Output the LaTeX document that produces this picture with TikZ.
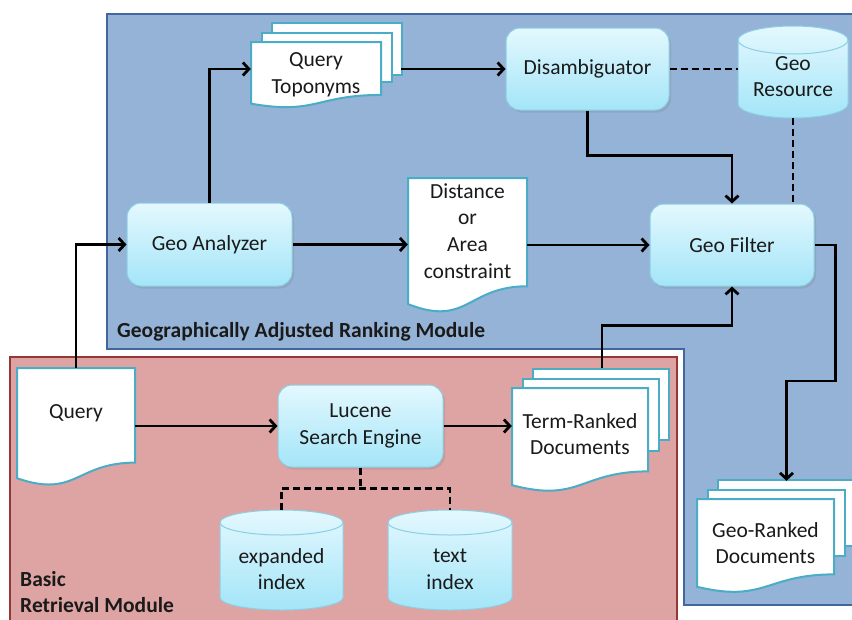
\documentclass[tikz,border=0pt]{standalone}
\usepackage{fontspec}
\setmainfont{Carlito}
\usetikzlibrary{arrows.meta,shadows}

\definecolor{panelblue}{HTML}{95B3D7}
\definecolor{panelblueline}{HTML}{41679E}
\definecolor{panelred}{HTML}{DEA4A3}
\definecolor{panelredline}{HTML}{953735}
\definecolor{boxtop}{HTML}{E4F8FE}
\definecolor{boxbot}{HTML}{A3E5F8}
\definecolor{boxline}{HTML}{8CCFE3}
\definecolor{docline}{HTML}{4BACC6}
\definecolor{ink}{HTML}{1A1A1A}

% flowchart document: left, top, right, height (y grows downwards)
\newcommand\docshape[4]{%
  \filldraw[docstyle] (#1,#2) -- (#3,#2) -- (#3,#2+0.802*#4)
    .. controls ({(#1+#3)/2},#2+0.802*#4) and ({(#1+#3)/2},#2+1.1075*#4) ..
    (#1,#2+0.934*#4) -- cycle;}
% stack of three pages, front page given as for \docshape
\newcommand\pagestack[4]{%
  \filldraw[docstyle] (#1+21,#2-19) rectangle (#3+21,#2+0.802*#4-0.30*#4);
  \filldraw[docstyle] (#1+10.5,#2-9.5) rectangle (#3+10.5,#2+0.802*#4-0.2*#4);
  \docshape{#1}{#2}{#3}{#4}}
% database cylinder: centre x, top y, bottom y, x radius, y radius (pt)
\newcommand\dbcyl[5]{%
  \path[top color=boxtop,bottom color=boxbot,draw=boxline,line width=1pt]
    (#1-#4,#2+#5) -- (#1-#4,#3-#5)
    arc[start angle=180,end angle=360,x radius=#4pt,y radius=#5pt]
    -- (#1+#4,#2+#5)
    arc[start angle=0,end angle=180,x radius=#4pt,y radius=#5pt] -- cycle;
  \draw[boxline,line width=1pt] (#1-#4,#2+#5)
    arc[start angle=180,end angle=360,x radius=#4pt,y radius=#5pt];}

\tikzset{
  txt/.style={font=\fontsize{21.5}{26.7}\selectfont, text=ink, align=center, inner sep=0pt},
  procbox/.style={txt, rounded corners=14pt, draw=boxline, line width=1pt,
    top color=boxtop, bottom color=boxbot,
    drop shadow={shadow xshift=2pt, shadow yshift=-2.5pt, opacity=0.25}},
  docstyle/.style={fill=white, draw=docline, line width=2pt},
  area/.style={txt, minimum width=#1},
  conn/.style={draw=black, line width=2.8pt},
  arr/.style={conn, -{Straight Barb[length=6pt,width=13pt]}},
  dashline/.style={conn, dash pattern=on 7pt off 4pt},
  paneltitle/.style={font=\bfseries\fontsize{21.5}{26.7}\selectfont, text=ink,
    align=left, inner sep=0pt, anchor=base west},
}

\begin{document}
\begin{tikzpicture}[x=1pt, y=-1pt]
\useasboundingbox (0,0) rectangle (852,619);
\clip (0,0) rectangle (852,619);

% module panels
\filldraw[fill=panelblue, draw=panelblueline, line width=2.5pt]
  (107,14) -- (870,14) -- (870,605) -- (684,605) -- (684,349) -- (107,349) -- cycle;
\filldraw[fill=panelred, draw=panelredline, line width=2.5pt]
  (10,357) -- (677,357) -- (677,640) -- (10,640) -- cycle;

% document shapes and databases
\pagestack{251}{42}{381}{66}
\docshape{408}{178}{527}{135}
\docshape{17}{368}{135}{118}
\pagestack{512}{388}{648}{104}
\pagestack{697}{499}{834}{94}
\dbcyl{793}{26}{118}{55}{14}
\dbcyl{281.5}{510}{610}{61.5}{12.5}
\dbcyl{450}{510}{610}{62}{12.5}

% process boxes
\node[procbox, minimum width=163pt, minimum height=82pt] (disamb) at (587.5,69) {Disambiguator};
\node[procbox, minimum width=165pt, minimum height=83pt] (geoan) at (209.5,244.5) {Geo Analyzer};
\node[procbox, minimum width=164pt, minimum height=82pt] (geofilt) at (732,245) {Geo Filter};
\node[procbox, minimum width=165pt, minimum height=82pt] (lucene) at (360.5,426) {Lucene\\Search Engine};

% texts on documents and databases
\node[area=130pt, minimum height=66pt] (topo) at (316,75) {Query\\Toponyms};
\node[area=119pt, minimum height=106pt] (dist) at (467.5,231) {Distance\\or\\Area\\constraint};
\node[area=118pt, minimum height=90pt] (query) at (76,413) {Query};
\node[area=136pt, minimum height=92pt] (termrank) at (580,434) {Term-Ranked\\Documents};
\node[area=137pt, minimum height=88pt] (georank) at (765.5,543) {Geo-Ranked\\Documents};
\node[area=110pt, minimum height=101pt] (geores) at (793,76.5) {Geo\\Resource};
\node[area=123pt, minimum height=118pt] (expidx) at (281.5,569) {expanded\\index};
\node[area=124pt, minimum height=118pt] (txtidx) at (450,569) {text\\index};

% panel titles
\node[paneltitle] (gartitle) at (117,337) {Geographically Adjusted Ranking Module};
\node[paneltitle] (brtitle) at (20,586) {Basic};
\node[paneltitle] (brtitle2) at (20,612) {Retrieval Module};

% connectors
\draw[arr] (query.north) |- (geoan.west);
\draw[arr] (geoan.north) |- (disamb.west -| topo.west);
\draw[arr] ([xshift=150pt]disamb.west -| topo.west) -- (disamb.west);
\draw[arr] (disamb.south) -- ++(0,45) -| (geofilt.north);
\draw[dashline] (disamb.east) -- (disamb.east -| geores.west);
\draw[dashline] ([yshift=9pt]geores.south) -- (geofilt.north -| geores.south);
\draw[arr] (geoan.east) -- (geoan.east -| dist.west);
\draw[arr] (geofilt.west -| dist.east) -- (geofilt.west);
\draw[arr] (geofilt.east) -- ++(21,0) -- ++(0,136) -| ([xshift=21pt,yshift=18pt]georank.north);
\draw[arr] (lucene.west -| query.east) -- (lucene.west);
\draw[arr] (lucene.east) -- (lucene.east -| termrank.west);
\draw[arr] ([xshift=22pt,yshift=20pt]termrank.north) -- ++(0,-42) -| (geofilt.south);
\draw[dashline] (lucene.south) -- ++(0,21) coordinate (fork);
\draw[dashline] (expidx.north) |- (fork) -| (txtidx.north);
\end{tikzpicture}
\end{document}
